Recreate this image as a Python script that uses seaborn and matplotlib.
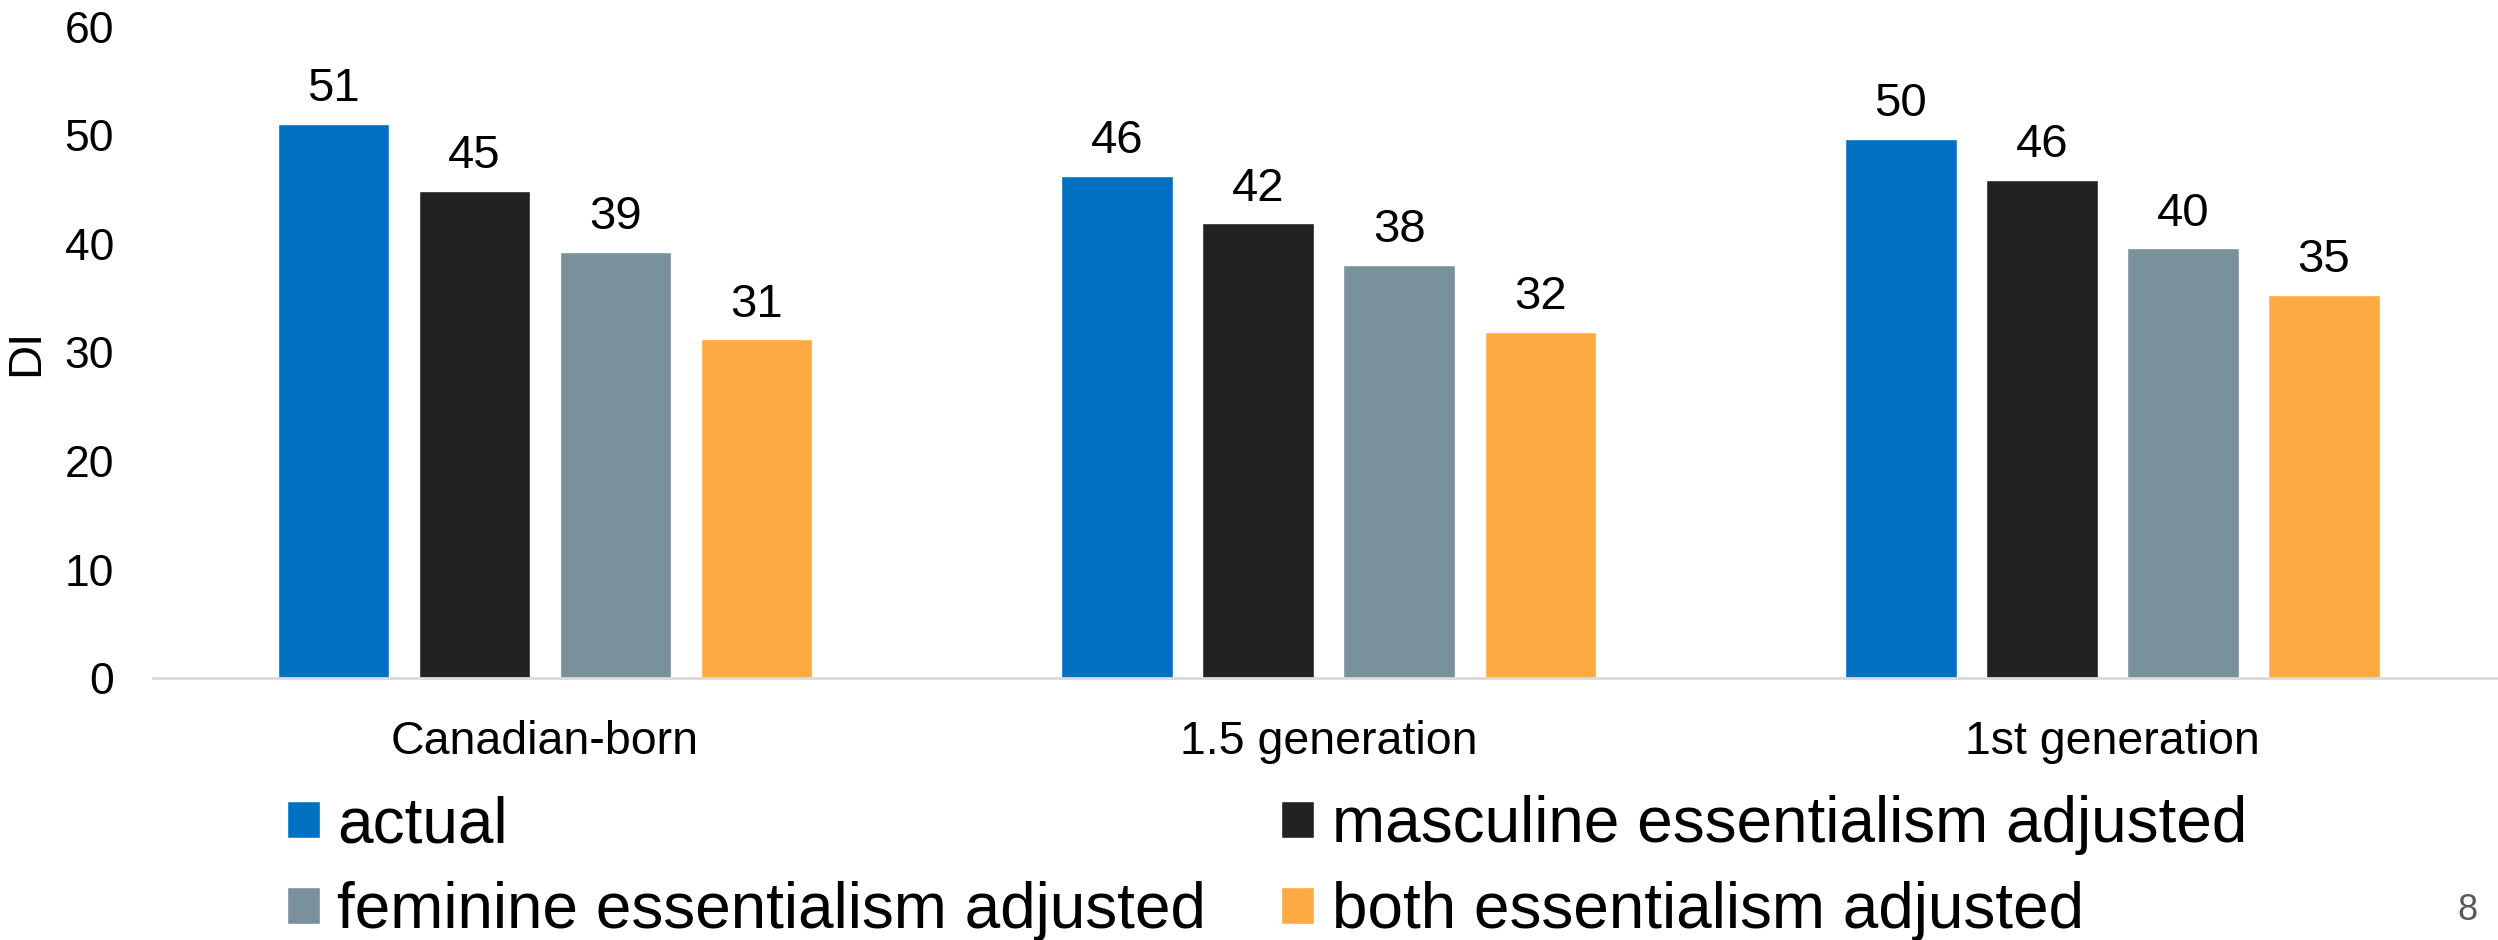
import seaborn as sns
import matplotlib.pyplot as plt
import pandas as pd

#Data
groups = ['Canadian-born', '1.5 generation', '1st generation']
series = ['actual', 'masculine essentialism adjusted',
          'feminine essentialism adjusted', 'both essentialism adjusted']
actual = [51.1, 46.3, 49.7]
masculine = [44.9, 41.9, 45.9]
feminine = [39.3, 38.1, 39.6]
both = [31.2, 31.9, 35.3]
colors = ['#0070C0', '#222222', '#7A909A', '#FDAA42']
yticks = [0, 10, 20, 30, 40, 50, 60]

rows = []
for name, vals in zip(series, [actual, masculine, feminine, both]):
    for g, v in zip(groups, vals):
        rows.append({'group': g, 'series': name, 'DI': v})
df = pd.DataFrame(rows)

sns.set_style('white')
plt.rcParams['font.family'] = ['Liberation Sans', 'DejaVu Sans']
plt.rcParams['text.color'] = 'black'

fig = plt.figure(figsize=(24.98, 9.4), dpi=100)
ax = fig.add_axes([0.0613, 0.2787, 0.9412, 0.6926])

ax = sns.barplot(data=df, x='group', y='DI', hue='series', order=groups,
                 hue_order=series, palette=colors, width=0.72, gap=0.21,
                 saturation=1, ax=ax)

for c in ax.containers:
    ax.bar_label(c, fmt='%.0f', fontsize=34, padding=9, color='black')

ax.set_ylim(0, 60)
ax.set_xlim(-0.5, 2.5)
ax.set_yticks(yticks)
ax.set_xlabel('')
ax.set_ylabel('DI', fontsize=34, labelpad=12, color='black')
ax.tick_params(axis='both', length=0, labelcolor='black')
ax.tick_params(axis='y', pad=28, labelsize=32)
ax.tick_params(axis='x', pad=30, labelsize=33.5)
sns.despine(ax=ax, left=True)
ax.spines['bottom'].set_color('#d9d9d9')
ax.spines['bottom'].set_linewidth(2)

#Legend laid out row-wise: actual | masculine, feminine | both
handles, labels = ax.get_legend_handles_labels()
ax.get_legend().remove()
order = [0, 2, 1, 3]
fig.legend([handles[i] for i in order], [labels[i] for i in order],
           ncol=2, loc='upper left', bbox_to_anchor=(0.1149, 0.154),
           frameon=False, fontsize=46, borderpad=0, borderaxespad=0,
           handlelength=0.52, handleheight=0.52, handletextpad=0.27,
           columnspacing=1.17, labelspacing=0.40, labelcolor='black')

fig.text(2467 / 2498, 1 - 910 / 940, '8', fontsize=26, color='#595959',
         ha='center', va='center')

fig.savefig('out.png', dpi=100)
